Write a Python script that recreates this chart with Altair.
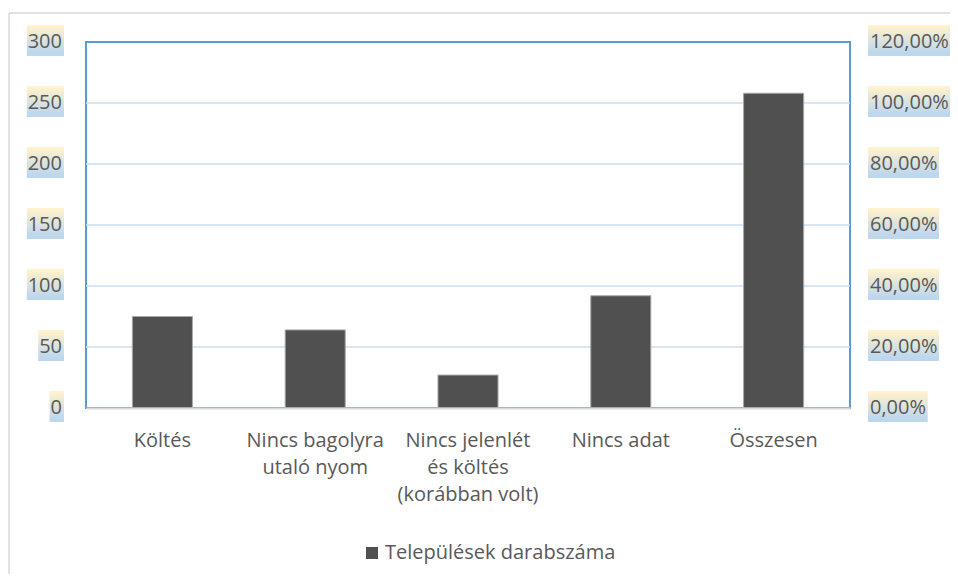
import altair as alt
import pandas as pd

# ---- data ----
categories = ["Költés", "Nincs bagolyra|utaló nyom", "Nincs jelenlét|és költés|(korábban volt)",
              "Nincs adat", "Összesen"]
counts = [75, 64, 27, 92, 258]
series_name = "Települések darabszáma"
left_ticks = [0, 50, 100, 150, 200, 250, 300]
left_labels = ["0", "50", "100", "150", "200", "250", "300"]
right_labels = ["0,00%", "20,00%", "40,00%", "60,00%", "80,00%", "100,00%", "120,00%"]
grid_ticks = [50, 100, 150, 200, 250]

FONT = "Open Sans"
TXT = "#595959"
W, H = 764, 366
PX = 300 / H  # data units per pixel


def text_w(s):
    return sum(11.4 if c.isdigit() else 5.0 if c == "," else 16.5 for c in s)


bars_df = pd.DataFrame({"cat": categories, "n": counts, "series": series_name})
grid_df = pd.DataFrame({"v": grid_ticks})

lab = pd.DataFrame({"v": left_ticks, "ll": left_labels, "rl": right_labels})
lab["lo"] = lab["v"] - 14 * PX
lab["hi"] = lab["v"] + 17 * PX
lab["lx2"] = -22.0
lab["lx"] = [-22.0 - (text_w(s) + 3) for s in left_labels]
lab["rx"] = 782.0
lab["rx2"] = [782.0 + text_w(s) + 4 for s in right_labels]

yscale = alt.Scale(domain=[0, 300], nice=False)
pxscale = alt.Scale(domain=[0, W], nice=False, zero=False)

grad = alt.LinearGradient(
    gradient="linear",
    stops=[alt.GradientStop(color="#FFF2CC", offset=0.05),
           alt.GradientStop(color="#BDD7EE", offset=0.9)],
    x1=0, x2=0, y1=0, y2=1,
)

grid = alt.Chart(grid_df).mark_rule(color="#C9DEF1", strokeWidth=1.5).encode(
    y=alt.Y("v:Q", scale=yscale, axis=None))

bars = alt.Chart(bars_df).mark_bar(stroke="#A8A8A8", strokeWidth=1).encode(
    x=alt.X("cat:N", sort=categories, title=None,
            scale=alt.Scale(paddingInner=0.607, paddingOuter=0.3035),
            axis=alt.Axis(labelExpr="split(datum.label, '|')", labelAngle=0,
                          labelFont=FONT, labelFontSize=20, labelColor=TXT,
                          labelLineHeight=27, labelPadding=22, ticks=False,
                          domainColor="#D9D9D9", domainWidth=2, grid=False, zindex=1)),
    y=alt.Y("n:Q", scale=yscale, title=None, axis=None),
    color=alt.Color("series:N", scale=alt.Scale(range=["#505050"]),
                    legend=alt.Legend(title=None, orient="none", legendX=276, legendY=501,
                                      symbolType="square", symbolSize=144,
                                      symbolStrokeWidth=0, labelFont=FONT,
                                      labelFontSize=20, labelColor=TXT, padding=0,
                                      labelLimit=0, labelOffset=3)),
)

left_box = alt.Chart(lab).mark_rect(color=grad).encode(
    x=alt.X("lx:Q", scale=pxscale, axis=None), x2="lx2:Q",
    y=alt.Y("lo:Q", scale=yscale, axis=None), y2="hi:Q",
)
right_box = alt.Chart(lab).mark_rect(color=grad).encode(
    x=alt.X("rx:Q", scale=pxscale, axis=None), x2="rx2:Q",
    y=alt.Y("lo:Q", scale=yscale, axis=None), y2="hi:Q",
)
left_txt = alt.Chart(lab).mark_text(align="right", baseline="middle", font=FONT,
                                    fontSize=20, color=TXT).encode(
    x=alt.value(-24), y=alt.Y("v:Q", scale=yscale, axis=None), text="ll:N")
right_txt = alt.Chart(lab).mark_text(align="left", baseline="middle", font=FONT,
                                     fontSize=20, color=TXT).encode(
    x=alt.value(784), y=alt.Y("v:Q", scale=yscale, axis=None), text="rl:N")

one = pd.DataFrame({"a": [0]})
frame_left = alt.Chart(one).mark_rule(color="#D9D9D9", strokeWidth=1.5).encode(
    x=alt.value(-77), y=alt.value(-29), y2=alt.value(560))
frame_top = alt.Chart(one).mark_rule(color="#D9D9D9", strokeWidth=1.5).encode(
    x=alt.value(-77), x2=alt.value(900), y=alt.value(-29))

chart = alt.layer(
    frame_left, frame_top, grid, bars, left_box, right_box, left_txt, right_txt
).resolve_scale(x="independent").properties(
    width=W, height=H,
    autosize=alt.AutoSizeParams(type="none"),
    padding={"left": 78, "top": 34, "right": 100, "bottom": 166},
).configure(background="white").configure_view(stroke="#5B9BD5", strokeWidth=2)

chart.save("out.html", embed_options={"renderer": "svg", "actions": False})
